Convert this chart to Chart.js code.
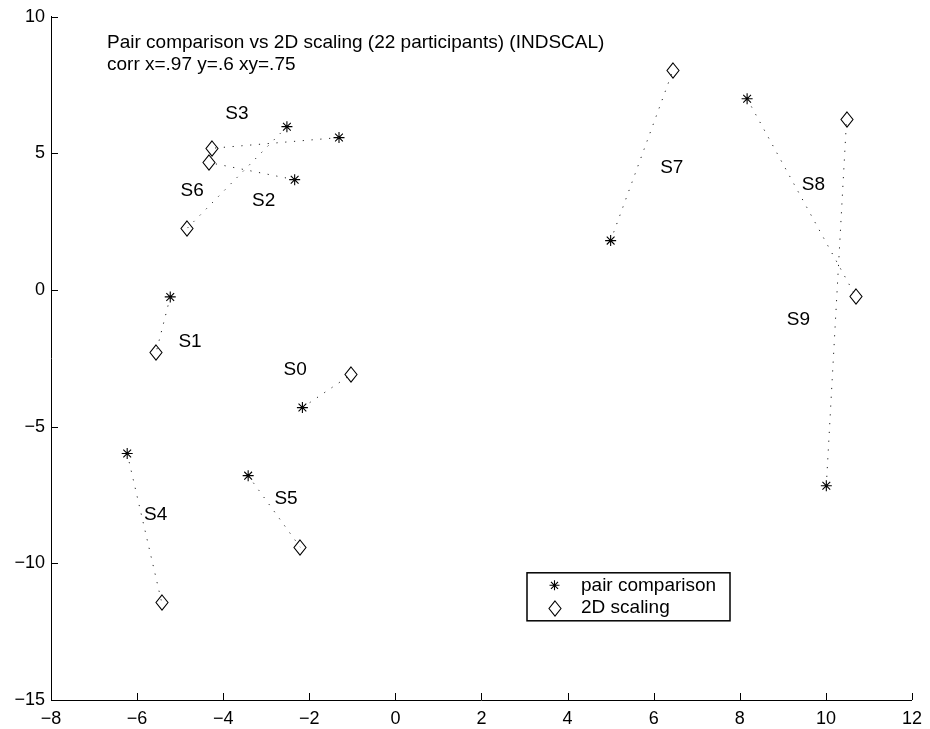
<!DOCTYPE html>
<html>
<head>
<meta charset="utf-8">
<script src="https://cdn.jsdelivr.net/npm/chart.js@4.4.1/dist/chart.umd.min.js"></script>
<style>
html, body { margin: 0; padding: 0; background: #fff; }
</style>
</head>
<body>
<canvas id="chart" width="930" height="729"></canvas>
<script>
// subjects and their two positions
var subjects = ['S0', 'S1', 'S2', 'S3', 'S4', 'S5', 'S6', 'S7', 'S8', 'S9'];
var pairX  = [-2.16, -5.23, -2.34, -1.31, -6.23, -3.42, -2.52, 5.00, 8.17, 10.01];
var pairY  = [-4.30, -0.25,  4.04,  5.58, -5.98, -6.79,  5.98, 1.81, 7.00, -7.16];
var scaleX = [-1.02, -5.56, -4.34, -4.25, -5.43, -2.21, -4.83, 6.45, 10.69, 10.48];
var scaleY = [-3.08, -2.29,  4.67,  5.19, -11.42, -9.41, 2.27, 8.05, -0.22, 6.23];
// where the subject names sit (data units)
var labelX = [-2.33, -4.77, -3.06, -3.68, -5.57, -2.54, -4.72, 6.42, 9.71, 9.36];
var labelY = [-2.90, -1.89,  3.25,  6.46, -8.22, -7.65,  3.64, 4.46, 3.86, -1.10];

var seriesNames = ['pair comparison', '2D scaling'];
var titleLines = ['Pair comparison vs 2D scaling (22 participants) (INDSCAL)', 'corr x=.97 y=.6 xy=.75'];
var xTicks = [-8, 12, 2];   // min, max, step
var yTicks = [-15, 10, 5];

var FAMILY = '"Liberation Sans", Arial, Helvetica, sans-serif';
var FONT = '19px ' + FAMILY;

// tall diamond marker like matlab's 'd'
var diamond = document.createElement('canvas');
diamond.width = 14; diamond.height = 17;
(function(){
  var c = diamond.getContext('2d');
  c.strokeStyle = '#000'; c.lineWidth = 1.1;
  c.beginPath();
  c.moveTo(7, 1); c.lineTo(13, 8.5); c.lineTo(7, 16); c.lineTo(1, 8.5); c.closePath();
  c.stroke();
})();

function drawStar(ctx, x, y, r) {
  var d = r * Math.SQRT1_2;
  ctx.beginPath();
  ctx.moveTo(x - r, y); ctx.lineTo(x + r, y);
  ctx.moveTo(x, y - r); ctx.lineTo(x, y + r);
  ctx.moveTo(x - d, y - d); ctx.lineTo(x + d, y + d);
  ctx.moveTo(x - d, y + d); ctx.lineTo(x + d, y - d);
  ctx.stroke();
}

var datasets = [];
subjects.forEach(function(s, i){
  datasets.push({
    type: 'line',
    label: s,
    data: [{x: pairX[i], y: pairY[i]}, {x: scaleX[i], y: scaleY[i]}],
    borderColor: '#222',
    borderWidth: 1,
    borderDash: [1.2, 7.6],
    pointRadius: 0,
    fill: false
  });
});
datasets.push({
  label: seriesNames[0],
  data: pairX.map(function(v, i){ return {x: v, y: pairY[i]}; }),
  pointStyle: 'star',
  pointRadius: 5.5,
  borderColor: '#000',
  borderWidth: 1.1,
  backgroundColor: '#000'
});
datasets.push({
  label: seriesNames[1],
  data: scaleX.map(function(v, i){ return {x: v, y: scaleY[i]}; }),
  pointStyle: diamond,
  pointRadius: 7
});

var overlay = {
  id: 'overlay',
  beforeDatasetsDraw: function(chart) {
    chart.ctx.imageSmoothingEnabled = false;
  },
  afterDatasetsDraw: function(chart) {
    var ctx = chart.ctx, a = chart.chartArea, xs = chart.scales.x, ys = chart.scales.y;
    ctx.save();
    // inward ticks
    ctx.strokeStyle = '#000'; ctx.lineWidth = 1;
    ctx.beginPath();
    xs.ticks.forEach(function(t){
      var px = Math.round(xs.getPixelForValue(t.value)) + 0.5;
      ctx.moveTo(px, a.bottom); ctx.lineTo(px, a.bottom - 7);
    });
    ys.ticks.forEach(function(t){
      var py = Math.round(ys.getPixelForValue(t.value)) + 0.5;
      ctx.moveTo(a.left, py); ctx.lineTo(a.left + 7, py);
    });
    ctx.stroke();

    ctx.font = FONT;
    ctx.fillStyle = '#000';
    ctx.textAlign = 'center'; ctx.textBaseline = 'middle';
    subjects.forEach(function(s, i){
      ctx.fillText(s, xs.getPixelForValue(labelX[i]), ys.getPixelForValue(labelY[i]));
    });

    ctx.textAlign = 'left'; ctx.textBaseline = 'alphabetic';
    ctx.fillText(titleLines[0], a.left + 56, a.top + 31);
    ctx.fillText(titleLines[1], a.left + 56, a.top + 53);

    // legend box
    var lx = a.left + 476, ly = a.top + 556, lw = 203, lh = 48;
    ctx.fillStyle = '#fff';
    ctx.fillRect(lx, ly, lw, lh);
    ctx.lineWidth = 1.5;
    ctx.strokeRect(lx, ly, lw, lh);
    ctx.lineWidth = 1.1;
    drawStar(ctx, lx + 27.5, ly + 12.5, 5);
    ctx.imageSmoothingEnabled = false;
    ctx.drawImage(diamond, lx + 21, ly + 27);
    ctx.fillStyle = '#000';
    ctx.textBaseline = 'middle';
    ctx.fillText(seriesNames[0], lx + 54, ly + 12.5);
    ctx.fillText(seriesNames[1], lx + 54, ly + 35);
    ctx.restore();
  }
};

function minusSign(v) { return String(v).replace('-', '\u2212'); }

new Chart(document.getElementById('chart').getContext('2d'), {
  type: 'scatter',
  data: { datasets: datasets },
  options: {
    responsive: false,
    animation: false,
    layout: { padding: { top: 15, right: 12, left: 0, bottom: 0 } },
    plugins: { legend: { display: false }, tooltip: { enabled: false } },
    scales: {
      x: {
        type: 'linear', min: xTicks[0], max: xTicks[1],
        ticks: { stepSize: xTicks[2], color: '#000', font: { family: FAMILY, size: 18 }, padding: 8, callback: minusSign, maxRotation: 0 },
        grid: { display: false, drawTicks: false },
        border: { display: true, color: '#000', width: 1 },
        afterFit: function(s){ s.height = 29; }
      },
      y: {
        type: 'linear', min: yTicks[0], max: yTicks[1],
        ticks: { stepSize: yTicks[2], color: '#000', font: { family: FAMILY, size: 18 }, padding: 6, callback: minusSign },
        grid: { display: false, drawTicks: false },
        border: { display: true, color: '#000', width: 1 },
        afterFit: function(s){ s.width = 51; }
      }
    }
  },
  plugins: [overlay]
});
</script>
</body>
</html>
